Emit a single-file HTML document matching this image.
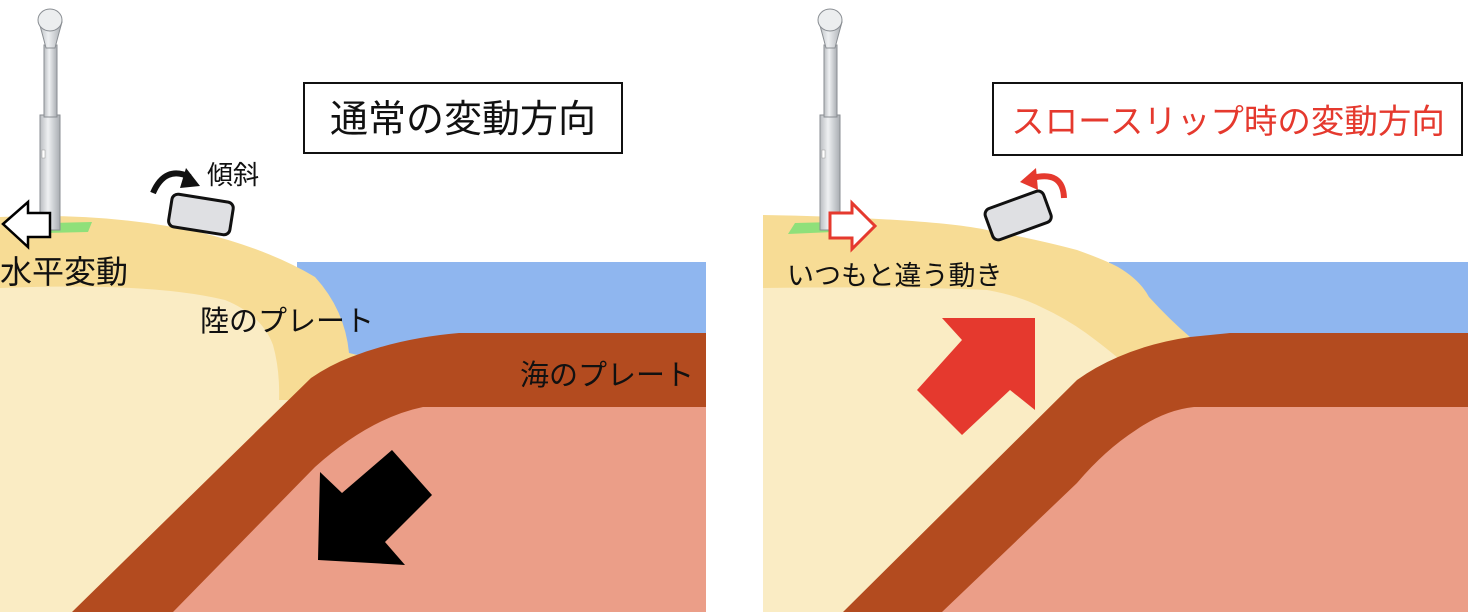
<!DOCTYPE html>
<html><head><meta charset="utf-8"><style>
html,body{margin:0;padding:0;background:#fff;}
svg{display:block;}
text{font-family:"Liberation Sans","Noto Sans CJK JP",sans-serif;}
</style></head><body>
<svg width="1468" height="612" viewBox="0 0 1468 612" xmlns="http://www.w3.org/2000/svg">
<defs>
<linearGradient id="tw" x1="0" x2="1"><stop offset="0" stop-color="#b9bcc0"/><stop offset="0.4" stop-color="#eef0f2"/><stop offset="1" stop-color="#a9adb2"/></linearGradient>
<clipPath id="cl"><rect x="0" y="0" width="706" height="612"/></clipPath>
<clipPath id="cr"><rect x="763" y="0" width="705" height="612"/></clipPath>
</defs>

<!-- LEFT PANEL -->
<g clip-path="url(#cl)">
<rect x="297" y="262" width="420" height="360" fill="#8fb6ef"/>
<!-- mantle (under plate) -->
<path d="M706,360 L440,360 Q380,365 330,400 L90,612 L706,612 Z" fill="#eb9e88"/>
<!-- land outer -->
<path d="M0,217 Q110,212 203,233 Q270,250 315,277 Q345,310 349,353 L362,356 L330,380 L100,612 L0,612 Z" fill="#f7dc95"/>
<!-- land inner -->
<path d="M0,288 Q150,282 225,300 Q262,315 273,345 Q280,370 279,400 L300,400 L110,612 L0,612 Z" fill="#faecc4"/>
<!-- plate -->
<path d="M706,333 L459,333 Q400,338 351,357 Q330,365 311,378 L72,612 L173,612 L315,467 Q370,418 423,407 L706,407 Z" fill="#b34b1f"/>
<!-- black arrow -->
<polygon points="392,450 432,495 385,542 405,565 318,560 320,472 342,493" fill="#000"/>
</g>

<!-- left tower -->
<polygon points="50,223 92,222 88,232 45,233" fill="#8fe07a"/>
<rect x="40" y="115" width="20" height="115" fill="url(#tw)" stroke="#8a8e93" stroke-width="1"/>
<rect x="44" y="45" width="13" height="72" fill="url(#tw)" stroke="#8a8e93" stroke-width="1"/>
<path d="M39,22 Q44,40 46,48 L55,48 Q57,40 62,22 Z" fill="url(#tw)" stroke="#8a8e93" stroke-width="1"/>
<ellipse cx="50" cy="20" rx="12" ry="11" fill="#eceeef" stroke="#8a8e93" stroke-width="1"/>
<rect x="42" y="150" width="3" height="8" fill="#fff" stroke="#999" stroke-width="0.5"/>
<polygon points="3,224 28,202 28,213 50,213 50,237 28,237 28,247" fill="#fff" stroke="#000" stroke-width="2.5"/>
<text x="0" y="283" font-size="32" fill="#111">水平変動</text>
<rect x="170" y="198" width="62" height="33" rx="6" fill="#dfe0e3" stroke="#111" stroke-width="3" transform="rotate(9 201 214)"/>
<path d="M153,193 Q165,165 190,177" fill="none" stroke="#111" stroke-width="6"/>
<polygon points="186,168 200,186 180,188" fill="#111"/>
<text x="207" y="184" font-size="26" fill="#111">傾斜</text>
<rect x="304" y="83" width="318" height="70" fill="#fff" stroke="#111" stroke-width="2"/>
<text x="463" y="132" font-size="38" text-anchor="middle" fill="#111">通常の変動方向</text>
<text x="200" y="331" font-size="29" fill="#111">陸のプレート</text>
<text x="520" y="385" font-size="29" fill="#111">海のプレート</text>

<!-- RIGHT PANEL -->
<g clip-path="url(#cr)">
<rect x="1109" y="262" width="370" height="360" fill="#8fb6ef"/>
<path d="M1468,360 L1210,360 Q1150,368 1100,410 L860,612 L1468,612 Z" fill="#eb9e88"/>
<path d="M762,215 Q830,216 897,220 Q960,224 987,230 Q1040,240 1077,250 Q1105,260 1118,267 Q1140,280 1149,297 Q1170,320 1190,337 L1200,345 L1095,380 L860,612 L762,612 Z" fill="#f7dc95"/>
<path d="M762,288 Q900,286 987,290 Q1020,296 1041,307 Q1065,318 1086,333 Q1105,347 1118,358 L1130,365 L870,612 L762,612 Z" fill="#faecc4"/>
<path d="M1468,333 L1230,333 Q1200,336 1190,337 Q1150,343 1118,357 Q1095,367 1077,380 L843,612 L942,612 L1077,483 Q1105,450 1136,430 Q1165,410 1194,407 L1468,407 Z" fill="#b34b1f"/>
<polygon points="942,318 1035,318 1035,410 1010,390 962,435 917,390 962,340" fill="#e5392e"/>
</g>
<polygon points="795,223 835,222 833,232 788,234" fill="#8fe07a"/>
<rect x="820" y="115" width="20" height="115" fill="url(#tw)" stroke="#8a8e93" stroke-width="1"/>
<rect x="824" y="45" width="13" height="72" fill="url(#tw)" stroke="#8a8e93" stroke-width="1"/>
<path d="M819,22 Q824,40 826,48 L835,48 Q837,40 842,22 Z" fill="url(#tw)" stroke="#8a8e93" stroke-width="1"/>
<ellipse cx="830" cy="20" rx="12" ry="11" fill="#eceeef" stroke="#8a8e93" stroke-width="1"/>
<rect x="822" y="150" width="3" height="8" fill="#fff" stroke="#999" stroke-width="0.5"/>
<polygon points="830,213 852,213 852,203 875,226 852,249 852,238 830,238" fill="#fff" stroke="#e5392e" stroke-width="3"/>
<text x="787" y="285" font-size="27" fill="#111">いつもと違う動き</text>
<rect x="987" y="199" width="62" height="33" rx="6" fill="#dfe0e3" stroke="#111" stroke-width="3" transform="rotate(-20 1018 215)"/>
<path d="M1064,198 Q1063,170 1032,178" fill="none" stroke="#e5392e" stroke-width="6"/>
<polygon points="1036,168 1020,182 1038,190" fill="#e5392e"/>
<rect x="993" y="83" width="469" height="72" fill="#fff" stroke="#111" stroke-width="2"/>
<text x="1228" y="133" font-size="33.5" text-anchor="middle" fill="#e5392e">スロースリップ時の変動方向</text>
</svg>
</body></html>
